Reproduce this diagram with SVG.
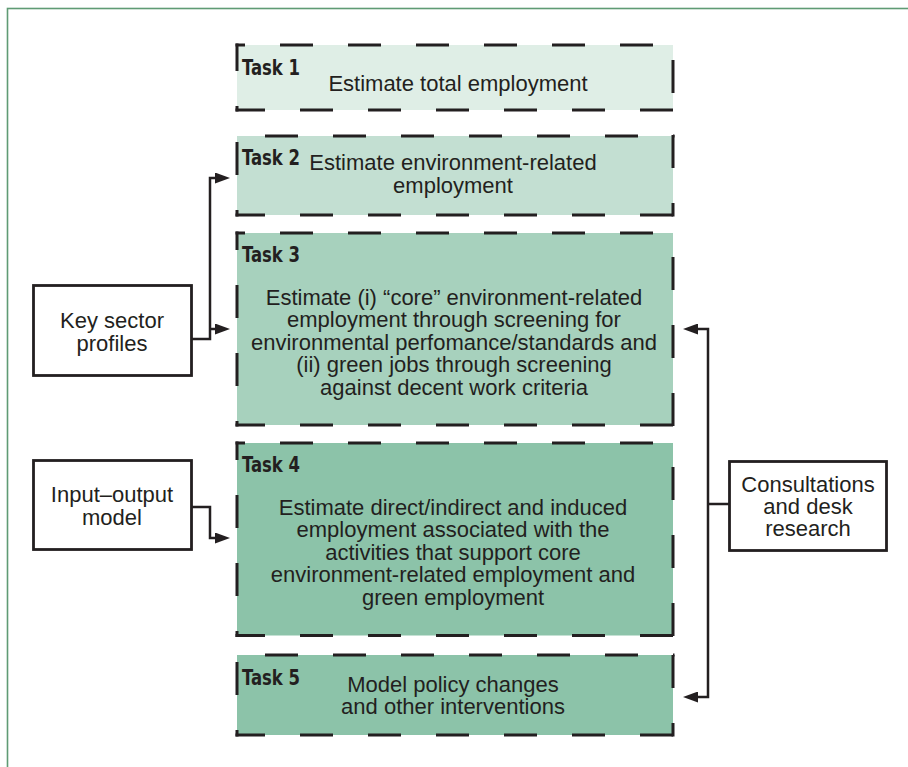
<svg xmlns="http://www.w3.org/2000/svg" width="908" height="767" viewBox="0 0 908 767">
<defs>
<style>
.edge{stroke:#231f20;stroke-width:3;stroke-dasharray:33 35;fill:none}
.lbl{font-family:"Liberation Sans Narrow","DejaVu Sans Condensed","Liberation Sans",sans-serif;font-weight:bold;font-size:21px;fill:#231f20}
.txt{font-family:"Liberation Sans","Arial",sans-serif;font-size:22px;fill:#231f20;text-anchor:middle}
.side{fill:#ffffff;stroke:#231f20;stroke-width:2.8}
.conn{fill:none;stroke:#231f20;stroke-width:2.5;stroke-linejoin:miter}
</style>
<marker id="arr" viewBox="0 0 15 11" refX="5" refY="5.5" markerWidth="15" markerHeight="11" markerUnits="userSpaceOnUse" orient="auto-start-reverse">
<path d="M0 0 L15 5.5 L0 11 Z" fill="#231f20"/>
</marker>
</defs>
<rect x="0" y="0" width="908" height="767" fill="#ffffff"/>
<g id="frame">
<rect x="7.5" y="8.5" width="940" height="800" fill="none" stroke="#5f9b74" stroke-width="1.6"/>
</g>
<g id="task1">
<rect x="237" y="45" width="436" height="65" fill="#dfeee6"/>
<line class="edge" x1="235.5" y1="45" x2="674.5" y2="45" style="stroke-dashoffset:23.5"/>
<line class="edge" x1="235.5" y1="110" x2="674.5" y2="110" style="stroke-dashoffset:3.5"/>
<line class="edge" x1="237" y1="43.5" x2="237" y2="111.5" style="stroke-dashoffset:5.5"/>
<line class="edge" x1="673" y1="43.5" x2="673" y2="111.5" style="stroke-dashoffset:51.5"/>
<text class="lbl" x="242" y="75" textLength="58" lengthAdjust="spacingAndGlyphs">Task 1</text>
<text class="txt" x="458" y="91">Estimate total employment</text>
</g>
<g id="task2">
<rect x="237" y="136" width="436" height="79" fill="#c3dfd2"/>
<line class="edge" x1="235.5" y1="136" x2="674.5" y2="136" style="stroke-dashoffset:38.5"/>
<line class="edge" x1="235.5" y1="215" x2="674.5" y2="215" style="stroke-dashoffset:3.5"/>
<line class="edge" x1="237" y1="134.5" x2="237" y2="216.5" style="stroke-dashoffset:60.5"/>
<line class="edge" x1="673" y1="134.5" x2="673" y2="216.5" style="stroke-dashoffset:-0.5"/>
<text class="lbl" x="242" y="165" textLength="58" lengthAdjust="spacingAndGlyphs">Task 2</text>
<text class="txt" x="453" y="170">Estimate environment-related</text>
<text class="txt" x="453" y="193">employment</text>
</g>
<g id="task3">
<rect x="237" y="233" width="436" height="192" fill="#a7d1bd"/>
<line class="edge" x1="235.5" y1="233" x2="674.5" y2="233" style="stroke-dashoffset:23.5"/>
<line class="edge" x1="235.5" y1="425" x2="674.5" y2="425" style="stroke-dashoffset:3.5"/>
<line class="edge" x1="237" y1="231.5" x2="237" y2="426.5" style="stroke-dashoffset:14.5"/>
<line class="edge" x1="673" y1="231.5" x2="673" y2="426.5" style="stroke-dashoffset:42.5"/>
<text class="lbl" x="242" y="262" textLength="58" lengthAdjust="spacingAndGlyphs">Task 3</text>
<text class="txt" x="454" y="304.5">Estimate (i) “core” environment-related</text>
<text class="txt" x="454" y="327">employment through screening for</text>
<text class="txt" x="454" y="349.5">environmental perfomance/standards and</text>
<text class="txt" x="454" y="372">(ii) green jobs through screening</text>
<text class="txt" x="454" y="394.5">against decent work criteria</text>
</g>
<g id="task4">
<rect x="237" y="443" width="436" height="192.5" fill="#8cc3a9"/>
<line class="edge" x1="235.5" y1="443" x2="674.5" y2="443" style="stroke-dashoffset:23.5"/>
<line class="edge" x1="235.5" y1="635.5" x2="674.5" y2="635.5" style="stroke-dashoffset:3.5"/>
<line class="edge" x1="237" y1="441.5" x2="237" y2="637" style="stroke-dashoffset:14.5"/>
<line class="edge" x1="673" y1="441.5" x2="673" y2="637" style="stroke-dashoffset:42.5"/>
<text class="lbl" x="242" y="472" textLength="58" lengthAdjust="spacingAndGlyphs">Task 4</text>
<text class="txt" x="453" y="514.5">Estimate direct/indirect and induced</text>
<text class="txt" x="453" y="537">employment associated with the</text>
<text class="txt" x="453" y="559.5">activities that support core</text>
<text class="txt" x="453" y="582">environment-related employment and</text>
<text class="txt" x="453" y="604.5">green employment</text>
</g>
<g id="task5">
<rect x="237" y="655" width="436" height="80" fill="#8cc3a9"/>
<line class="edge" x1="235.5" y1="655" x2="674.5" y2="655" style="stroke-dashoffset:38.5"/>
<line class="edge" x1="235.5" y1="735" x2="674.5" y2="735" style="stroke-dashoffset:3.5"/>
<line class="edge" x1="237" y1="653.5" x2="237" y2="736.5" style="stroke-dashoffset:59.5"/>
<line class="edge" x1="673" y1="653.5" x2="673" y2="736.5" style="stroke-dashoffset:-1.5"/>
<text class="lbl" x="242" y="685" textLength="58" lengthAdjust="spacingAndGlyphs">Task 5</text>
<text class="txt" x="453" y="691.5">Model policy changes</text>
<text class="txt" x="453" y="713.5">and other interventions</text>
</g>
<g id="key-sector-profiles">
<rect class="side" x="33.5" y="285.5" width="158" height="90"/>
<text class="txt" x="112" y="328">Key sector</text>
<text class="txt" x="112" y="351">profiles</text>
</g>
<g id="input-output-model">
<rect class="side" x="33.5" y="460.5" width="158" height="89"/>
<text class="txt" x="112" y="502">Input–output</text>
<text class="txt" x="112" y="525">model</text>
</g>
<g id="consultations">
<rect class="side" x="729.5" y="461.5" width="157" height="89"/>
<text class="txt" x="808" y="492">Consultations</text>
<text class="txt" x="808" y="514">and desk</text>
<text class="txt" x="808" y="536">research</text>
</g>
<g id="connectors">
<path class="conn" d="M192 339 H210 V178 H220" marker-end="url(#arr)"/>
<path class="conn" d="M210 329 H220" marker-end="url(#arr)"/>
<path class="conn" d="M192 507 H210 V538 H220" marker-end="url(#arr)"/>
<path class="conn" d="M693 329 H708 V697 H693" marker-start="url(#arr)" marker-end="url(#arr)"/>
<path class="conn" d="M729 504 H708"/>
</g>
</svg>
